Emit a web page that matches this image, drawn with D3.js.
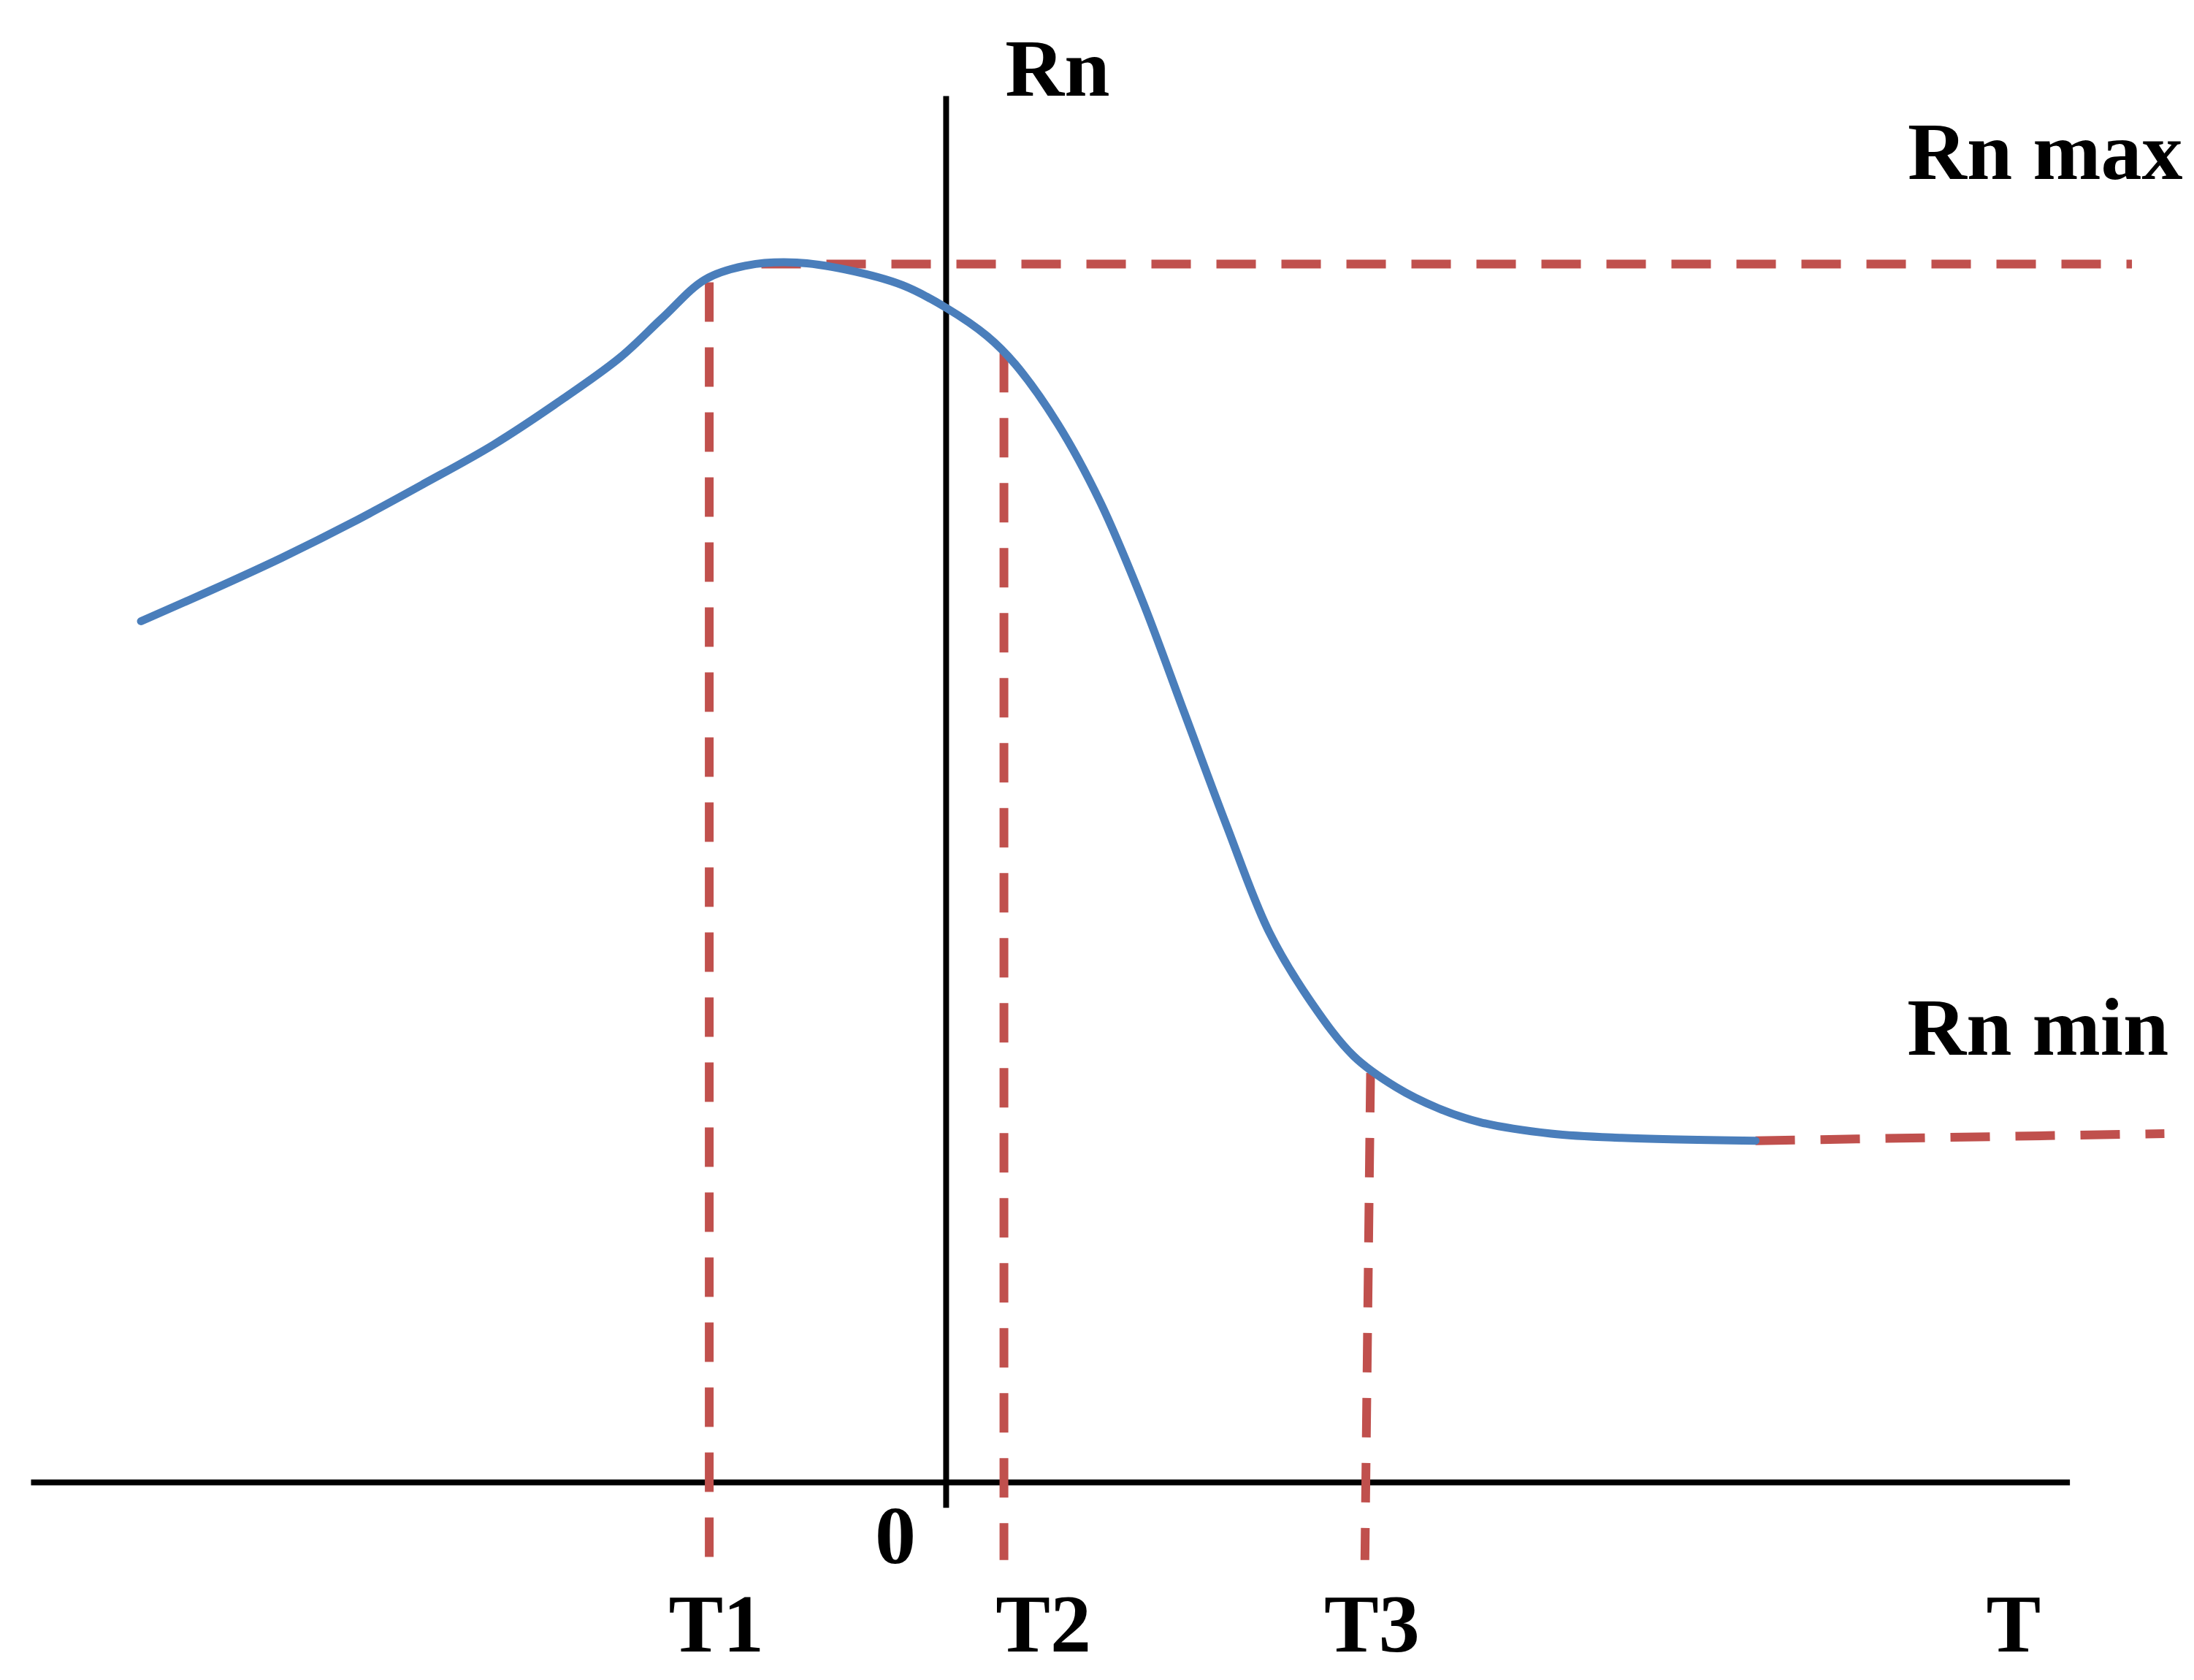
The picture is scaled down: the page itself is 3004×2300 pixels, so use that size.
<!DOCTYPE html>
<html><head><meta charset="utf-8">
<script src="https://cdn.jsdelivr.net/npm/d3@7"></script>
<style>body{margin:0;background:#fff}</style>
</head><body>
<svg id="chart" width="3004" height="2300"></svg>
<script>
// curve samples (time, Rn)
var curveT = [100,150,200,250,300,350,400,440,470,500,530,565,600,640,671,700,720,750,780,810,840,870,900,930,960,990,1020,1050,1100,1150,1245];
var curveRn = [440,418,395,370,343,315,282,253,225,198,188,186,191,202,218,238,258,300,355,425,505,585,660,710,748,770,785,795,803,806,808];
var tickLabels = ["T1", "T2", "T3", "T"];
var tickPos = [508, 740, 973, 1428];

var W = 3004, H = 2300;
var x = d3.scaleLinear().domain([0, 1556]).range([0, W]);
var y = d3.scaleLinear().domain([0, 1190]).range([0, H]);
var svg = d3.select("#chart");
var red = "#c0504d", blue = "#4a7ebb";

// axes
svg.append("line").attr("x1", x(22)).attr("x2", x(1468)).attr("y1", y(1050)).attr("y2", y(1050))
  .attr("stroke", "#000").attr("stroke-width", 8);
svg.append("line").attr("x1", x(671)).attr("x2", x(671)).attr("y1", y(68)).attr("y2", y(1068))
  .attr("stroke", "#000").attr("stroke-width", 8);

// dashed guides
var guides = [
  [[540,187],[1512,187]],
  [[503,200],[503,1110]],
  [[712,250],[712,1105]],
  [[972,760],[968,1105]],
  [[1245,808],[1535,803]]
];
svg.selectAll(".guide").data(guides).enter().append("line")
  .attr("x1", function(d){return x(d[0][0]);}).attr("y1", function(d){return y(d[0][1]);})
  .attr("x2", function(d){return x(d[1][0]);}).attr("y2", function(d){return y(d[1][1]);})
  .attr("stroke", red).attr("stroke-width", 12).attr("stroke-dasharray", "54,35");

// curve
var line = d3.line().x(function(d){return x(d[0]);}).y(function(d){return y(d[1]);}).curve(d3.curveCatmullRom);
svg.append("path").datum(d3.zip(curveT, curveRn)).attr("d", line)
  .attr("fill", "none").attr("stroke", blue).attr("stroke-width", 11).attr("stroke-linecap", "round");

// text
var font = "'Liberation Serif', 'Times New Roman', serif";
function label(t, px, py, anchor) {
  svg.append("text").attr("x", x(px)).attr("y", y(py)).attr("text-anchor", anchor || "middle")
    .attr("font-family", font).attr("font-weight", "bold").attr("font-size", 112).text(t);
}
label("Rn", 750, 68);
label("Rn max", 1548, 127, "end");
label("Rn min", 1538, 747, "end");
label("0", 635, 1107);
tickLabels.forEach(function(t, i){ label(t, tickPos[i], 1170); });
</script>
</body></html>
